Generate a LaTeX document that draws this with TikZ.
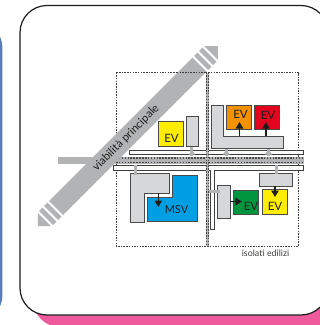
\documentclass[tikz,border=0pt]{standalone}
\usepackage{fontspec}
\setmainfont{Lato}
\usetikzlibrary{arrows.meta}
\definecolor{bandgray}{HTML}{B2B3B5}
\definecolor{bldg}{HTML}{D6D7D9}
\definecolor{edgec}{HTML}{4A4A4A}
\definecolor{ink}{HTML}{1D1D1B}
\definecolor{evyellow}{HTML}{FFED00}
\definecolor{evorange}{HTML}{F39200}
\definecolor{evred}{HTML}{E30520}
\definecolor{evgreen}{HTML}{009640}
\definecolor{msvblue}{HTML}{009FE3}
\definecolor{pinkc}{HTML}{EE5A9C}
\definecolor{bluebar}{HTML}{5A7DB9}
\tikzset{
  box/.style={draw=edgec,line width=1pt,inner sep=0pt,outer sep=0pt,anchor=north west,rectangle},
  bldgshape/.style={draw=edgec,line width=1pt,fill=bldg},
  lane/.style={draw=ink!85,line width=.7pt,fill=white},
  dotline/.style={draw=ink!85,line width=.85pt,dash pattern=on 1.5pt off 1.2pt},
  roaddots/.style={draw=edgec,line width=1.3pt,dash pattern=on 1.6pt off 1.3pt},
  stripe/.style={draw=white,line width=2.1pt},
  arrowk/.style={draw=ink,line width=1.1pt,-{Triangle[length=6.5pt,width=7.5pt]}},
  link/.style={draw=bandgray,line width=3pt},
  linkhead/.style={fill=bandgray},
  lab/.style={font=\fontsize{11.5}{12}\selectfont,text=ink,inner sep=0pt},
  smalllab/.style={font=\fontsize{8.9}{9}\selectfont,text=ink!85,inner sep=0pt},
}
\begin{document}
\begin{tikzpicture}[x=1pt,y=-1pt]
\useasboundingbox (0,0) rectangle (320,325);
\clip (0,0) rectangle (320,325);
\fill[white] (0,0) rectangle (320,325);
% side bar and pink backing
\fill[bluebar,rounded corners=27pt] (-30,21) rectangle (2.5,322);
\fill[pinkc,rounded corners=27pt] (33,280) rectangle (350,327);
% card
\draw[ink,fill=white,line width=1.2pt,rounded corners=27pt] (20,5.5) rectangle (328,315);
% dotted blocks
\draw[dotline] (116,72.5) rectangle (298.5,246);
% horizontal road
\fill[bandgray] (58,156.5) rectangle (304,164);
% lanes
\draw[lane] (129,150) rectangle (303.5,154.5);
\draw[lane] (214.5,229.5) -- (214.5,170.5) -- (303.5,170.5) -- (303.5,165.5) -- (113.5,165.5) -- (113.5,170.5) -- (210,170.5) -- (210,229.5) -- cycle;
% road dots
\draw[roaddots] (116,158) -- (304,158);
\draw[roaddots] (116,162.2) -- (304,162.2);
% vertical road
\fill[bandgray] (205.7,72.5) rectangle (209.3,246);
\draw[roaddots] (206.4,72.5) -- (206.4,246);
\draw[roaddots] (208.6,72.5) -- (208.6,246);
% diagonal road
\fill[bandgray] (204,46) -- (218,46) -- (218,60) -- (52,226) -- (38,226) -- (38,212) -- cycle;
\draw[stripe] (202.25,45.75) -- (218.25,61.75);
\draw[stripe] (197.25,50.75) -- (213.25,66.75);
\draw[stripe] (192.25,55.75) -- (208.25,71.75);
\draw[stripe] (37.25,210.75) -- (53.25,226.75);
\draw[stripe] (42.25,205.75) -- (58.25,221.75);
\draw[stripe] (47.25,200.75) -- (63.25,216.75);
\draw[dotline] (177,72.5) -- (206,72.5);
\node[rotate=45,font=\fontsize{11.2}{12}\selectfont,text=ink,inner sep=0pt] (viab) at (126,138) {viabilità principale};
% links road to buildings
\draw[link] (192,147) -- (192,156);
\fill[linkhead] (189,154.5) -- (192,149) -- (195,154.5) -- cycle;
\draw[link] (226.3,149) -- (226.3,156);
\fill[linkhead] (223,154.5) -- (226.3,149.5) -- (229.6,154.5) -- cycle;
\draw[link] (268.5,149) -- (268.5,156);
\fill[linkhead] (265,154.5) -- (268.5,149.5) -- (272,154.5) -- cycle;
% buildings
\node[box,fill=bldg,minimum width=12pt,minimum height=30.5pt] (bA) at (186.5,116) {};
\node[box,fill=evyellow,minimum width=24.5pt,minimum height=24.5pt] (evA) at (159,121.5) {};
\node[lab] (tA) at (171.5,138) {EV};
\draw[bldgshape] (211.5,105) -- (224,105) -- (224,136) -- (284,136) -- (284,148.5) -- (211.5,148.5) -- cycle;
\coordinate (bBa) at (239.5,136);
\coordinate (bBb) at (266,136);
\node[box,fill=evorange,minimum width=24.5pt,minimum height=24.5pt] (evB) at (227,105) {};
\node[box,fill=evred,minimum width=24.5pt,minimum height=24.5pt] (evC) at (255,105) {};
\node[lab] (tB) at (240.5,114.5) {EV};
\node[lab] (tC) at (268,115) {EV};
\coordinate (hB) at (239.5,122);
\coordinate (hC) at (266,122);
\draw[arrowk] (bBa) -- (hB);
\draw[arrowk] (bBb) -- (hC);
% MSV
\draw[box,fill=msvblue] (173,175.5) -- (197.5,175.5) -- (197.5,221) -- (147.5,221) -- (147.5,197) -- (173,197) -- cycle;
\draw[bldgshape] (130.5,173.5) -- (169.5,173.5) -- (169.5,193) -- (144.5,193) -- (144.5,222) -- (130.5,222) -- cycle;
\node[lab,font=\fontsize{11}{12}\selectfont] (tM) at (176.5,210) {MSV};
\coordinate (bM) at (158.3,193);
\coordinate (hM) at (158.3,207);
\draw[arrowk] (bM) -- (hM);
% lower right
\node[box,fill=bldg,minimum width=13pt,minimum height=33pt] (bD) at (217.5,185.5) {};
\node[box,fill=evgreen,minimum width=24.5pt,minimum height=24.5pt] (evD) at (234,190) {};
\node[box,fill=evyellow,minimum width=25pt,minimum height=24.5pt] (evE) at (262.5,189.5) {};
\node[box,fill=bldg,minimum width=33pt,minimum height=12.5pt] (bE) at (259.5,173.5) {};
\node[lab] (tD) at (251,206.5) {EV};
\node[lab] (tE) at (275,206) {EV};
\coordinate (hD) at (242,201.5);
\coordinate (hE) at (275,197);
\draw[arrowk] (bD.east |- hD) -- (hD);
\draw[arrowk] (bE.south -| hE) -- (hE);
\draw[link] (209.5,191.5) -- (220,191.5);
\draw[link] (135.5,165) -- (135.5,175);
\draw[link] (276.5,165) -- (276.5,174);
\node[smalllab] (iso) at (265.5,253) {isolati edilizi};
\end{tikzpicture}
\end{document}
